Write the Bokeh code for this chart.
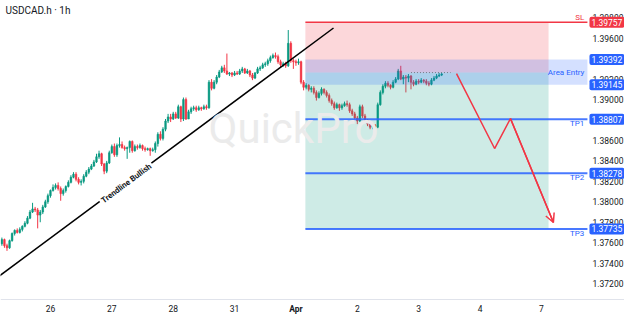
from bokeh.plotting import figure
from bokeh.models import Range1d, Label, Arrow, OpenHead, ColumnDataSource
from bokeh.core.properties import value
from bokeh.embed import file_html
from bokeh.resources import INLINE

# ---- hourly USDCAD.h bars (hour numbers counted from 25 Mar 00:00, weekends skipped) ----
first_hour = 5

bar_open = [
    1.3759, 1.3763, 1.3757, 1.3755, 1.3762, 1.3769, 1.3772, 1.3770, 1.3773, 1.3776,
    1.3779, 1.3784, 1.3790, 1.3793, 1.3792, 1.3787, 1.3790, 1.3795, 1.3800, 1.3806,
    1.3811, 1.3814, 1.3816, 1.3813, 1.3808, 1.3811, 1.3815, 1.3819, 1.3824, 1.3827,
    1.3822, 1.3819, 1.3820, 1.3825, 1.3829, 1.3832, 1.3835, 1.3839, 1.3844, 1.3847,
    1.3837, 1.3830, 1.3838, 1.3848, 1.3854, 1.3846, 1.3855, 1.3856, 1.3853, 1.3852,
    1.3853, 1.3859, 1.3850, 1.3854, 1.3853, 1.3855, 1.3852, 1.3851, 1.3852, 1.3850,
    1.3851, 1.3857, 1.3866, 1.3862, 1.3871, 1.3879, 1.3883, 1.3881, 1.3886, 1.3882,
    1.3893, 1.3881, 1.3900, 1.3881, 1.3888, 1.3891, 1.3892, 1.3890, 1.3892, 1.3891,
    1.3893, 1.3892, 1.3917, 1.3911, 1.3917, 1.3922, 1.3927, 1.3931, 1.3928, 1.3925,
    1.3926, 1.3924, 1.3926, 1.3925, 1.3928, 1.3930, 1.3926, 1.3928, 1.3924, 1.3921,
    1.3926, 1.3930, 1.3931, 1.3934, 1.3935, 1.3938, 1.3941, 1.3943, 1.3942, 1.3937,
    1.3934, 1.3935, 1.3933, 1.3955, 1.3938, 1.3937, 1.3936, 1.3937, 1.3917, 1.3912,
    1.3914, 1.3910, 1.3911, 1.3907, 1.3902, 1.3906, 1.3910, 1.3907, 1.3904, 1.3899,
    1.3896, 1.3892, 1.3895, 1.3892, 1.3894, 1.3896, 1.3895, 1.3889, 1.3886, 1.3882,
    1.3879, 1.3893, 1.3884, 1.3880, 1.3876, 1.3873, 1.3875, 1.3873, 1.3895, 1.3907,
    1.3913, 1.3916, 1.3914, 1.3912, 1.3917, 1.3920, 1.3928, 1.3920, 1.3922, 1.3921,
    1.3923, 1.3917, 1.3915, 1.3918, 1.3917, 1.3919, 1.3918, 1.3916, 1.3915, 1.3919,
    1.3921, 1.3923, 1.3924,
]
bar_high = [
    1.3765, 1.3764, 1.3759, 1.3763, 1.3770, 1.3773, 1.3774, 1.3775, 1.3777, 1.3781,
    1.3786, 1.3792, 1.3799, 1.3795, 1.3794, 1.3792, 1.3797, 1.3802, 1.3808, 1.3812,
    1.3817, 1.3818, 1.3819, 1.3815, 1.3813, 1.3816, 1.3821, 1.3826, 1.3829, 1.3829,
    1.3824, 1.3822, 1.3827, 1.3831, 1.3834, 1.3837, 1.3841, 1.3847, 1.3850, 1.3848,
    1.3838, 1.3840, 1.3850, 1.3856, 1.3857, 1.3857, 1.3863, 1.3859, 1.3855, 1.3854,
    1.3860, 1.3860, 1.3856, 1.3856, 1.3857, 1.3856, 1.3854, 1.3853, 1.3853, 1.3853,
    1.3859, 1.3868, 1.3869, 1.3873, 1.3881, 1.3886, 1.3886, 1.3888, 1.3888, 1.3895,
    1.3894, 1.3902, 1.3902, 1.3890, 1.3893, 1.3894, 1.3894, 1.3894, 1.3893, 1.3895,
    1.3895, 1.3919, 1.3920, 1.3919, 1.3924, 1.3929, 1.3933, 1.3934, 1.3945, 1.3927,
    1.3927, 1.3928, 1.3928, 1.3930, 1.3932, 1.3931, 1.3930, 1.3929, 1.3926, 1.3927,
    1.3932, 1.3933, 1.3936, 1.3937, 1.3940, 1.3943, 1.3945, 1.3946, 1.3944, 1.3939,
    1.3937, 1.3937, 1.3968, 1.3957, 1.3940, 1.3939, 1.3940, 1.3938, 1.3919, 1.3916,
    1.3915, 1.3913, 1.3913, 1.3909, 1.3908, 1.3912, 1.3911, 1.3909, 1.3906, 1.3901,
    1.3898, 1.3897, 1.3896, 1.3896, 1.3898, 1.3899, 1.3897, 1.3891, 1.3888, 1.3884,
    1.3895, 1.3895, 1.3886, 1.3881, 1.3878, 1.3877, 1.3876, 1.3897, 1.3909, 1.3915,
    1.3918, 1.3918, 1.3915, 1.3919, 1.3922, 1.3930, 1.3933, 1.3924, 1.3924, 1.3925,
    1.3924, 1.3919, 1.3920, 1.3920, 1.3921, 1.3920, 1.3920, 1.3918, 1.3921, 1.3923,
    1.3925, 1.3926, 1.3926,
]
bar_low = [
    1.3757, 1.3755, 1.3752, 1.3754, 1.3761, 1.3767, 1.3769, 1.3769, 1.3771, 1.3775,
    1.3778, 1.3783, 1.3789, 1.3790, 1.3774, 1.3780, 1.3788, 1.3794, 1.3798, 1.3804,
    1.3810, 1.3812, 1.3811, 1.3801, 1.3806, 1.3809, 1.3814, 1.3818, 1.3823, 1.3820,
    1.3817, 1.3816, 1.3818, 1.3824, 1.3827, 1.3831, 1.3834, 1.3838, 1.3842, 1.3835,
    1.3827, 1.3828, 1.3837, 1.3847, 1.3844, 1.3844, 1.3853, 1.3852, 1.3850, 1.3842,
    1.3848, 1.3848, 1.3849, 1.3851, 1.3852, 1.3850, 1.3849, 1.3850, 1.3845, 1.3849,
    1.3848, 1.3854, 1.3860, 1.3860, 1.3869, 1.3877, 1.3878, 1.3880, 1.3881, 1.3881,
    1.3878, 1.3879, 1.3880, 1.3881, 1.3886, 1.3889, 1.3888, 1.3889, 1.3889, 1.3890,
    1.3890, 1.3891, 1.3909, 1.3910, 1.3915, 1.3921, 1.3926, 1.3926, 1.3924, 1.3923,
    1.3922, 1.3923, 1.3924, 1.3924, 1.3926, 1.3925, 1.3925, 1.3922, 1.3919, 1.3920,
    1.3925, 1.3928, 1.3930, 1.3932, 1.3933, 1.3936, 1.3940, 1.3940, 1.3935, 1.3931,
    1.3932, 1.3931, 1.3932, 1.3936, 1.3930, 1.3933, 1.3934, 1.3915, 1.3909, 1.3910,
    1.3908, 1.3907, 1.3905, 1.3899, 1.3901, 1.3904, 1.3905, 1.3902, 1.3897, 1.3894,
    1.3890, 1.3891, 1.3889, 1.3890, 1.3893, 1.3893, 1.3887, 1.3884, 1.3881, 1.3876,
    1.3878, 1.3882, 1.3878, 1.3874, 1.3871, 1.3871, 1.3871, 1.3872, 1.3894, 1.3905,
    1.3911, 1.3912, 1.3910, 1.3911, 1.3916, 1.3919, 1.3919, 1.3915, 1.3907, 1.3917,
    1.3910, 1.3913, 1.3914, 1.3915, 1.3916, 1.3916, 1.3914, 1.3913, 1.3914, 1.3918,
    1.3920, 1.3922, 1.3923,
]
bar_close = [
    1.3763, 1.3757, 1.3755, 1.3762, 1.3769, 1.3772, 1.3770, 1.3773, 1.3776, 1.3779,
    1.3784, 1.3790, 1.3793, 1.3792, 1.3787, 1.3790, 1.3795, 1.3800, 1.3806, 1.3811,
    1.3814, 1.3816, 1.3813, 1.3808, 1.3811, 1.3815, 1.3819, 1.3824, 1.3827, 1.3822,
    1.3819, 1.3820, 1.3825, 1.3829, 1.3832, 1.3835, 1.3839, 1.3844, 1.3847, 1.3837,
    1.3830, 1.3838, 1.3848, 1.3854, 1.3846, 1.3855, 1.3856, 1.3853, 1.3852, 1.3853,
    1.3859, 1.3850, 1.3854, 1.3853, 1.3855, 1.3852, 1.3851, 1.3852, 1.3850, 1.3851,
    1.3857, 1.3866, 1.3862, 1.3871, 1.3879, 1.3883, 1.3881, 1.3886, 1.3882, 1.3893,
    1.3881, 1.3900, 1.3881, 1.3888, 1.3891, 1.3892, 1.3890, 1.3892, 1.3891, 1.3893,
    1.3892, 1.3917, 1.3911, 1.3917, 1.3922, 1.3927, 1.3931, 1.3928, 1.3925, 1.3926,
    1.3924, 1.3926, 1.3925, 1.3928, 1.3930, 1.3926, 1.3928, 1.3924, 1.3921, 1.3926,
    1.3930, 1.3931, 1.3934, 1.3935, 1.3938, 1.3941, 1.3943, 1.3942, 1.3937, 1.3934,
    1.3935, 1.3933, 1.3955, 1.3938, 1.3937, 1.3936, 1.3937, 1.3917, 1.3912, 1.3914,
    1.3910, 1.3911, 1.3907, 1.3902, 1.3906, 1.3910, 1.3907, 1.3904, 1.3899, 1.3896,
    1.3892, 1.3895, 1.3892, 1.3894, 1.3896, 1.3895, 1.3889, 1.3886, 1.3882, 1.3879,
    1.3893, 1.3884, 1.3880, 1.3876, 1.3873, 1.3875, 1.3873, 1.3895, 1.3907, 1.3913,
    1.3916, 1.3914, 1.3912, 1.3917, 1.3920, 1.3928, 1.3920, 1.3922, 1.3921, 1.3923,
    1.3917, 1.3915, 1.3918, 1.3917, 1.3919, 1.3918, 1.3916, 1.3915, 1.3919, 1.3921,
    1.3923, 1.3924, 1.3925,
]

# ---- scale labels ----
day_ticks = [24, 48, 72, 96, 120, 144, 168, 192, 216]
day_labels = ["26", "27", "28", "31", "Apr", "2", "3", "4", "7"]
month_label = "Apr"
price_ticks = [1.372, 1.374, 1.376, 1.378, 1.380, 1.382, 1.384,
               1.386, 1.388, 1.390, 1.392, 1.394, 1.396, 1.398]

# ---- trade plan drawings ----
stop_loss = 1.39757
entry_price = 1.39264
area_top = 1.39392
area_bottom = 1.39145
targets = [1.38807, 1.38278, 1.37735]
target_names = ["TP1", "TP2", "TP3"]
zone_start, zone_end = 123.7, 218.8
trend_hours = [0.0, 134.7]
trend_prices = [1.3720, 1.3970]
path_hours = [182.8, 197.7, 203.9, 220.7]
path_prices = [1.39254, 1.38521, 1.38814, 1.37797]

UP = "#089981"
DOWN = "#f23645"
BLUE = "#2962ff"
TEXT = "#131722"
FONT = "Roboto"

# chart pane spans hours 4.46 .. 234.0; the price scale sits to its right
PANE_LEFT, PANE_RIGHT, SCALE_RIGHT = 4.46, 234.0, 248.5
PRICE_TOP, PANE_BOTTOM, SCALE_BOTTOM = 1.39969, 1.37044, 1.36878
SCALE_TEXT_X = 236.0
DATE_TEXT_Y = 1.36956

hours = list(range(first_hour, first_hour + len(bar_close)))
colors = [UP if c >= o else DOWN for o, c in zip(bar_open, bar_close)]
src = ColumnDataSource(dict(
    x=hours, high=bar_high, low=bar_low,
    top=[max(o, c) for o, c in zip(bar_open, bar_close)],
    bottom=[min(o, c) for o, c in zip(bar_open, bar_close)],
    color=colors,
))

p = figure(width=624, height=316,
           x_range=Range1d(PANE_LEFT, SCALE_RIGHT), y_range=Range1d(SCALE_BOTTOM, PRICE_TOP),
           x_axis_location=None, y_axis_location=None,
           output_backend="svg", toolbar_location=None,
           min_border_left=0, min_border_top=0, min_border_right=0, min_border_bottom=0)
p.background_fill_color = "white"
p.border_fill_color = "white"
p.outline_line_color = None
p.grid.visible = False

# watermark and symbol title
p.add_layout(Label(x=293, y=188, x_units="screen", y_units="screen", text="QuickPro",
                   text_font=FONT, text_font_size="42px", text_color="#ebebeb",
                   text_align="center", text_baseline="middle"))
p.add_layout(Label(x=5, y=306, x_units="screen", y_units="screen", text="USDCAD.h · 1h",
                   text_font=FONT, text_font_size="10px", text_color=TEXT,
                   text_baseline="middle"))

# time scale: separator and day labels
p.segment(x0=[PANE_LEFT], x1=[SCALE_RIGHT], y0=[PANE_BOTTOM], y1=[PANE_BOTTOM],
          line_color="#e0e3eb", line_width=1)
plain = [(t, l) for t, l in zip(day_ticks, day_labels) if l != month_label]
bold = [(t, l) for t, l in zip(day_ticks, day_labels) if l == month_label]
p.text(x=[t for t, _ in plain], y=[DATE_TEXT_Y] * len(plain), text=[l for _, l in plain],
       text_font=value(FONT), text_font_size="8.5px", text_color=TEXT,
       text_align="center", text_baseline="middle")
p.text(x=[t for t, _ in bold], y=[DATE_TEXT_Y] * len(bold), text=[l for _, l in bold],
       text_font=value(FONT), text_font_size="8.5px", text_font_style="bold",
       text_color=TEXT, text_align="center", text_baseline="middle")

# price scale labels
p.text(x=[SCALE_TEXT_X] * len(price_ticks), y=price_ticks,
       text=[f"{t:.5f}" for t in price_ticks],
       text_font=value(FONT), text_font_size="8.5px", text_color=TEXT,
       text_align="left", text_baseline="middle")

# candles
p.segment(x0="x", x1="x", y0="low", y1="high", color="color", line_width=1, source=src)
p.vbar(x="x", width=0.62, top="top", bottom="bottom", fill_color="color",
       line_color="color", line_width=0.6, source=src)

# position zones and entry area
p.quad(left=[zone_start], right=[zone_end], top=[stop_loss], bottom=[entry_price],
       fill_color=DOWN, fill_alpha=0.2, line_color=None)
p.quad(left=[zone_start], right=[zone_end], top=[entry_price], bottom=[targets[-1]],
       fill_color=UP, fill_alpha=0.2, line_color=None)
p.quad(left=[zone_start], right=[PANE_RIGHT], top=[area_top], bottom=[area_bottom],
       fill_color=BLUE, fill_alpha=0.2, line_color=None)
p.segment(x0=[165.0], x1=[180.5], y0=[entry_price], y1=[entry_price],
          line_color="#787b86", line_width=1, line_dash="1 2")

# stop-loss and target levels
p.segment(x0=[zone_start], x1=[PANE_RIGHT], y0=[stop_loss], y1=[stop_loss],
          line_color=DOWN, line_width=1.5)
p.segment(x0=[zone_start] * 3, x1=[PANE_RIGHT] * 3, y0=targets, y1=targets,
          line_color=BLUE, line_width=2, line_alpha=0.85)
p.add_layout(Label(x=232.8, y=stop_loss, text="SL", text_font=FONT, text_font_size="8px",
                   text_color=DOWN, text_align="right", text_baseline="bottom"))
for name, lvl in zip(target_names, targets):
    p.add_layout(Label(x=232.8, y=lvl, text=name, text_font=FONT, text_font_size="8px",
                       text_color=BLUE, text_align="right", text_baseline="top"))
p.add_layout(Label(x=232.8, y=(area_top + area_bottom) / 2, text="Area Entry",
                   text_font=FONT, text_font_size="8px", text_color=BLUE,
                   text_align="right", text_baseline="middle"))

# trend line
p.line(trend_hours, trend_prices, line_color="black", line_width=1.5)
p.add_layout(Label(x=53.7, y=1.38179, text="Trendline Bullish", text_font=FONT,
                   text_font_size="8px", text_font_style="bold", text_color=TEXT,
                   angle=36.7, angle_units="deg", text_align="center",
                   text_baseline="middle", background_fill_color="white", padding=2))

# projected path
p.line(path_hours, path_prices, line_color=DOWN, line_width=1.5)
p.add_layout(Arrow(end=OpenHead(size=9, line_color=DOWN, line_width=1.5),
                   x_start=path_hours[-2], y_start=path_prices[-2],
                   x_end=path_hours[-1], y_end=path_prices[-1],
                   line_color=DOWN, line_width=1.5))

# price-scale tags
tags = [(stop_loss, DOWN), (area_top, BLUE), (area_bottom, BLUE)] + [(t, BLUE) for t in targets]
for lvl, col in tags:
    p.add_layout(Label(x=234.8, y=lvl, text=f"{lvl:.5f}", text_font=FONT,
                       text_font_size="8.5px", text_color="white", text_baseline="middle",
                       background_fill_color=col, padding=2, border_radius=2))

open("out.html", "w").write(file_html(p, INLINE))
